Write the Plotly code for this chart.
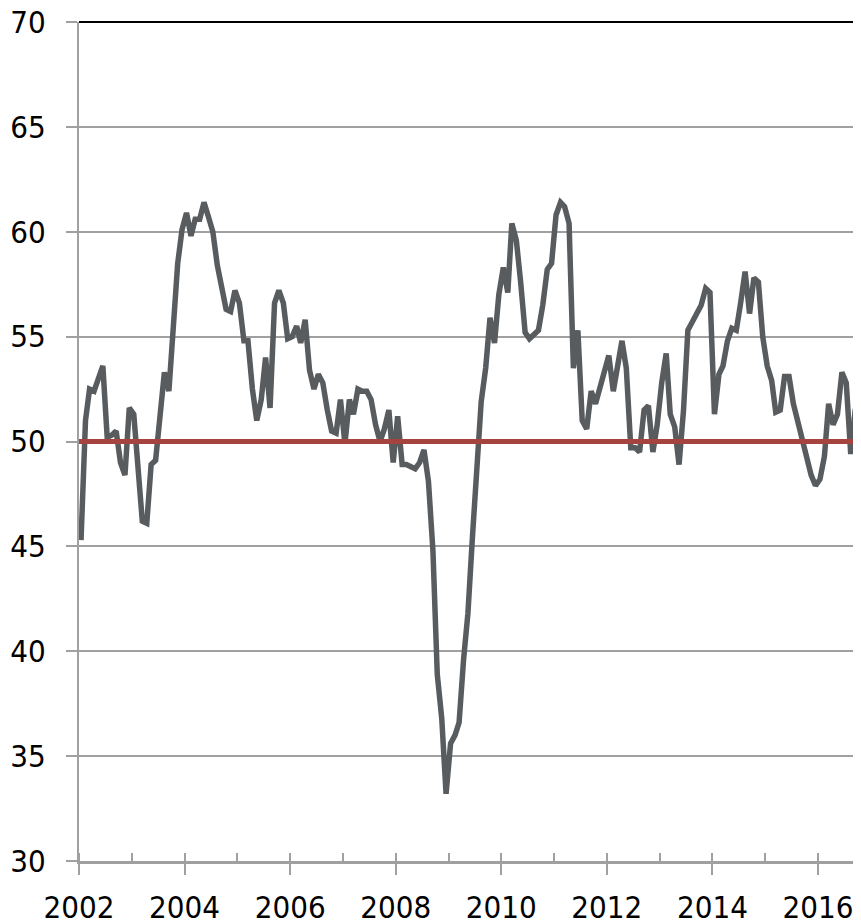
import pandas as pd
import plotly.graph_objects as go

# Monthly index values (Jan 2002 - Nov 2016)
pmi_2002 = [45.3, 51.0, 52.5, 52.4, 53.0, 53.6, 50.2, 50.3, 50.5, 49.0, 48.4, 51.6]
pmi_2003 = [51.3, 48.7, 46.2, 46.1, 48.9, 49.1, 51.2, 53.3, 52.4, 55.6, 58.5, 60.1]
pmi_2004 = [60.9, 59.8, 60.6, 60.6, 61.4, 60.7, 60.0, 58.4, 57.3, 56.3, 56.2, 57.2]
pmi_2005 = [56.6, 54.8, 54.8, 52.5, 51.0, 52.0, 54.0, 51.6, 56.6, 57.2, 56.6, 54.9]
pmi_2006 = [55.0, 55.5, 54.7, 55.8, 53.4, 52.5, 53.2, 52.8, 51.5, 50.5, 50.4, 52.0]
pmi_2007 = [49.9, 52.0, 51.3, 52.5, 52.4, 52.4, 52.0, 50.8, 50.0, 50.6, 51.5, 49.0]
pmi_2008 = [51.2, 48.9, 48.9, 48.8, 48.7, 49.0, 49.6, 48.1, 44.8, 38.9, 36.8, 33.2]
pmi_2009 = [35.6, 36.0, 36.6, 39.6, 41.8, 45.4, 48.3, 51.9, 53.5, 55.9, 54.7, 57.0]
pmi_2010 = [58.3, 57.1, 60.4, 59.6, 57.6, 55.2, 54.9, 55.1, 55.3, 56.5, 58.2, 58.5]
pmi_2011 = [60.8, 61.4, 61.2, 60.4, 53.5, 55.3, 51.0, 50.6, 52.4, 51.8, 52.5, 53.2]
pmi_2012 = [54.1, 52.4, 53.5, 54.8, 53.5, 49.7, 49.7, 49.5, 51.5, 51.7, 49.5, 50.8]
pmi_2013 = [52.8, 54.2, 51.3, 50.7, 48.9, 51.5, 55.3, 55.7, 56.1, 56.5, 57.3, 57.1]
pmi_2014 = [51.3, 53.2, 53.6, 54.8, 55.4, 55.3, 56.6, 58.1, 56.1, 57.8, 57.6, 55.0]
pmi_2015 = [53.6, 52.9, 51.4, 51.5, 53.1, 53.1, 51.8, 51.0, 50.0, 49.4, 48.4, 47.9]
pmi_2016 = [48.2, 49.3, 51.8, 50.8, 51.3, 53.3, 52.8, 49.4, 51.5, 51.9, 53.2]

threshold = 50
y_ticks = [30, 35, 40, 45, 50, 55, 60, 65, 70]
x_start = "2002-01-01"
x_end = "2016-10-25"

values = (pmi_2002 + pmi_2003 + pmi_2004 + pmi_2005 + pmi_2006 + pmi_2007 +
          pmi_2008 + pmi_2009 + pmi_2010 + pmi_2011 + pmi_2012 + pmi_2013 +
          pmi_2014 + pmi_2015 + pmi_2016)
dates = pd.date_range(x_start, periods=len(values), freq="MS") + pd.Timedelta(days=14)

FONT = "Liberation Sans Narrow, Arial Narrow, DejaVu Sans Condensed, sans-serif"
FSIZE = 31
GRID = "#a0a0a0"

fig = go.Figure()
fig.add_trace(go.Scatter(
    x=dates, y=values, mode="lines",
    line=dict(color="#585c5f", width=5.5),
    hoverinfo="x+y", showlegend=False,
))
fig.add_trace(go.Scatter(
    x=[x_start, x_end], y=[threshold, threshold], mode="lines",
    line=dict(color="#a5443f", width=5),
    hoverinfo="skip", showlegend=False,
))

# black frame line along the top of the plot area
fig.add_shape(type="line", xref="paper", yref="paper", x0=0, x1=1,
              y0=1, y1=1, line=dict(color="#000000", width=2))

# the page body adds an 8px offset, so the figure is sized to the visible area
fig.update_layout(
    width=853, height=916,
    margin=dict(l=71, r=0, t=14, b=63, autoexpand=False),
    paper_bgcolor="white", plot_bgcolor="white",
    font=dict(family=FONT, size=FSIZE, color="#000000"),
)
fig.update_xaxes(
    type="date", range=[x_start, x_end], automargin=False,
    showgrid=False, zeroline=False,
    showline=True, linecolor=GRID, linewidth=3,
    ticks="outside", ticklen=11, tickwidth=2, tickcolor=GRID,
    tick0=x_start, dtick="M24", tickformat="%Y",
    tickfont=dict(family=FONT, size=FSIZE, color="#000000"),
    ticklabelstandoff=6, ticklabeloverflow="allow",
    minor=dict(ticks="inside", ticklen=8, tickwidth=2, tickcolor=GRID,
               tick0=x_start, dtick="M12", showgrid=False),
)
fig.update_yaxes(
    range=[y_ticks[0], y_ticks[-1]], tickvals=y_ticks, automargin=False,
    showgrid=True, gridcolor=GRID, gridwidth=2, zeroline=False,
    showline=True, linecolor=GRID, linewidth=2,
    ticks="outside", ticklen=11, tickwidth=2, tickcolor=GRID,
    tickfont=dict(family=FONT, size=FSIZE, color="#000000"),
    ticklabelstandoff=14, ticklabeloverflow="allow",
)

fig.write_html("out.html")
